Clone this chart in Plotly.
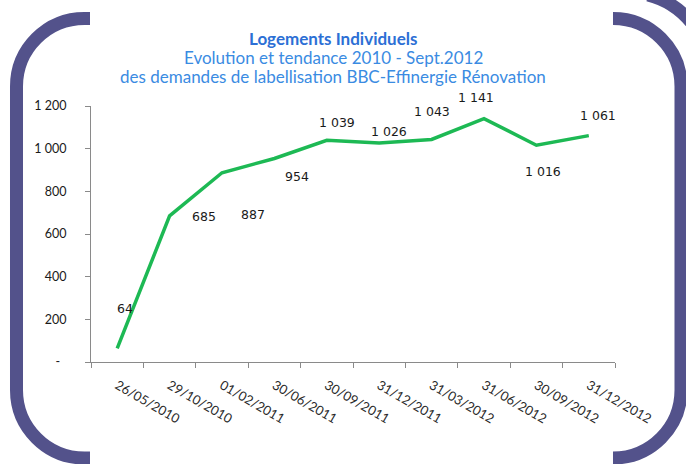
import plotly.graph_objects as go

# ---- data ----
dates = ["26/05/2010", "29/10/2010", "01/02/2011", "30/06/2011", "30/09/2011",
         "31/12/2011", "31/03/2012", "31/06/2012", "30/09/2012", "31/12/2012"]
demandes = [64, 685, 887, 954, 1039, 1026, 1043, 1141, 1016, 1061]
y_tick_vals = [0, 200, 400, 600, 800, 1000, 1200]
y_tick_text = ["-\u00a0\u00a0", "200", "400", "600", "800", "1 000", "1 200"]
title_lines = ["Logements Individuels",
               "Evolution et tendance 2010 - Sept.2012",
               "des demandes de labellisation BBC-Effinergie Rénovation"]

# label offsets in pixels (dx, dy; dy positive = down)
label_offsets = [(8, -40), (34, 1), (31, 42), (23, 18), (10, -18),
                 (10, -12), (0, -28), (-8, -21), (7, 26), (9, -20)]

W, H = 686, 464
ML, MR, MT, MB = 91, 71, 106, 102
PW, PH = W - ML - MR, H - MT - MB


def px(x):
    return (x - ML) / PW


def py(y):
    return (H - MB - y) / PH


def fmt(v):
    return f"{v:,}".replace(",", " ")


K = 0.5523


def path_from(cmds):
    out = []
    for c in cmds:
        op = c[0]
        pts = c[1:]
        coords = " ".join(f"{px(pts[i]):.5f},{py(pts[i+1]):.5f}" for i in range(0, len(pts), 2))
        out.append(f"{op} {coords}")
    return " ".join(out)


FRAME = "#53528b"
xl, yt, yb, R = 16.5, 18.5, 458, 68
left = path_from([
    ("M", 90, yt),
    ("L", xl + R, yt),
    ("C", xl + R - K * R, yt, xl, yt + R - K * R, xl, yt + R),
    ("L", xl, yb - R),
    ("C", xl, yb - R + K * R, xl + R - K * R, yb, xl + R, yb),
    ("L", 90, yb),
])
xr = 681
right = path_from([
    ("M", 613, yt),
    ("L", xr - R, yt),
    ("C", xr - R + K * R, yt, xr, yt + R - K * R, xr, yt + R),
    ("L", xr, yb - R),
    ("C", xr, yb - R + K * R, xr - R + K * R, yb, xr - R, yb),
    ("L", 613, yb),
])
corner = path_from([
    ("M", 648, -5),
    ("Q", 676, 2, 694, 26),
])

fig = go.Figure()
fig.add_trace(go.Scatter(
    x=dates, y=demandes, mode="lines",
    line=dict(color="#1db954", width=3.5),
    hoverinfo="skip", showlegend=False,
))

for i, (d, v) in enumerate(zip(dates, demandes)):
    dx, dy = label_offsets[i]
    fig.add_annotation(x=d, y=v, xref="x", yref="y", text=fmt(v), showarrow=False,
                       xshift=dx, yshift=-dy,
                       font=dict(family="DejaVu Sans", size=12.5, color="#1a1a1a"))

title_y = [38, 57, 76]
for i, t in enumerate(title_lines):
    fig.add_annotation(x=px(333), y=py(title_y[i]), xref="paper", yref="paper",
                       text=f"<b>{t}</b>" if i == 0 else t, showarrow=False,
                       xanchor="center", yanchor="middle",
                       font=dict(family="Lato", size=17,
                                 color="#2c6fd5" if i == 0 else "#3a8be2"))

for p in (left, right, corner):
    fig.add_shape(type="path", path=p, xref="paper", yref="paper",
                  line=dict(color=FRAME, width=13), layer="above")

fig.update_layout(
    width=W, height=H,
    margin=dict(l=ML, r=MR, t=MT, b=MB, pad=0),
    paper_bgcolor="white", plot_bgcolor="white",
    showlegend=False,
    xaxis=dict(type="category", range=[-0.5, len(dates) - 0.5],
               showline=True, linecolor="#8a8a8a", linewidth=1,
               ticks="outside", ticklen=5, tickcolor="#8a8a8a",
               tickson="boundaries", showgrid=False, zeroline=False,
               tickangle=30, ticklabelstandoff=10,
               tickfont=dict(family="Lato", size=13, color="#2a2a2a")),
    yaxis=dict(range=[0, 1200], tickvals=y_tick_vals, ticktext=y_tick_text,
               showline=True, linecolor="#8a8a8a", linewidth=1,
               ticks="outside", ticklen=5, tickcolor="#8a8a8a",
               showgrid=False, zeroline=False, ticklabelstandoff=16,
               tickfont=dict(family="Lato", size=12.5, color="#1a1a1a")),
)

fig.write_html("out.html", config={"displayModeBar": False, "staticPlot": True},
               post_script="document.body.style.margin='0';document.body.style.overflow='hidden';")
